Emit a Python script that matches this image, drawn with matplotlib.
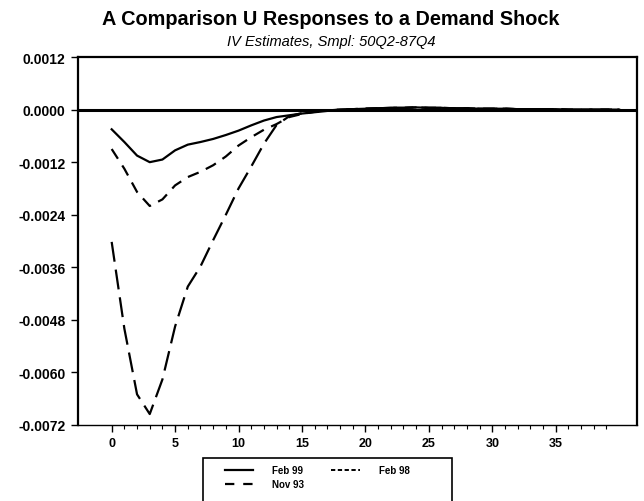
import matplotlib
matplotlib.use("Agg")
from matplotlib import pyplot as plt
from matplotlib.lines import Line2D
from matplotlib.patches import Rectangle
from matplotlib.ticker import FixedLocator

plt.rcParams["font.family"] = ["Liberation Sans", "DejaVu Sans"]

# quarters after the shock
horizon = list(range(41))

tail = [0.0, 0.00001, 0.00002, 0.00003, 0.00004, 0.00004, 0.00005, 0.00004,
        0.00004, 0.00003, 0.00003, 0.00002, 0.00002, 0.00002, 0.00001, 0.00001,
        0.00001, 0.00001, 0.0, 0.0, 0.0, 0.0, 0.0]

feb99 = [-0.00045, -0.00074, -0.00105, -0.00120, -0.00114, -0.00093, -0.00080,
         -0.00074, -0.00067, -0.00058, -0.00048, -0.00036, -0.00025, -0.00017,
         -0.00013, -0.00009, -0.00006, -0.00003] + tail
feb98 = [-0.00090, -0.00135, -0.00188, -0.00220, -0.00205, -0.00173, -0.00154,
         -0.00142, -0.00127, -0.00107, -0.00082, -0.00063, -0.00046, -0.00033,
         -0.00017, -0.00010, -0.00005, -0.00002] + tail
nov93 = [-0.00302, -0.00500, -0.00650, -0.00695, -0.00616, -0.00495, -0.00404,
         -0.00358, -0.00298, -0.00240, -0.00180, -0.00130, -0.00078, -0.00035,
         -0.00015, -0.00008, -0.00004, -0.00002] + tail

title = "A Comparison U Responses to a Demand Shock"
subtitle = "IV Estimates, Smpl: 50Q2-87Q4"

fig = plt.figure(figsize=(6.44, 5.02), dpi=100)
ax = fig.add_axes([0.121, 0.1514, 0.868, 0.733])

ax.plot(horizon, feb99, color="black", lw=1.6)
ax.plot(horizon, feb98, color="black", lw=1.6, linestyle=(0, (5.2, 3.6)))
ax.plot(horizon, nov93, color="black", lw=1.6, linestyle=(0, (9.0, 3.6)))
ax.axhline(0, color="black", lw=2.2, zorder=1)

ax.set_xlim(-2.66, 41.4)
ax.set_ylim(-0.0072, 0.0012)
ax.set_xticks(range(0, 40, 5))
ax.xaxis.set_minor_locator(FixedLocator(range(0, 40)))
ax.set_yticks([0.0012, 0.0, -0.0012, -0.0024, -0.0036, -0.0048, -0.0060, -0.0072])
ax.set_yticklabels(["0.0012", "0.0000", "-0.0012", "-0.0024", "-0.0036",
                    "-0.0048", "-0.0060", "-0.0072"])
ax.tick_params(axis="both", which="major", direction="out", length=5, width=1, pad=4)
ax.tick_params(axis="x", labelsize=9)
ax.tick_params(axis="y", labelsize=10)
ax.tick_params(axis="x", which="minor", direction="out", length=3, width=0.8)
for lab in ax.get_xticklabels() + ax.get_yticklabels():
    lab.set_fontweight("bold")
for side in ["left", "top", "right"]:
    ax.spines[side].set_linewidth(1.6)
ax.spines["bottom"].set_linewidth(1.0)

fig.text(0.513, 0.962, title, ha="center", va="center", fontsize=14.3, fontweight="bold")
fig.text(0.514, 0.916, subtitle, ha="center", va="center", fontsize=10.5, style="italic")

# legend box runs off the bottom of the page, as in the scan
fig.add_artist(Rectangle((203 / 644, -0.05), 249 / 644, 0.05 + 1 - 459 / 502,
                         transform=fig.transFigure, fill=False, edgecolor="black",
                         lw=1.2, clip_on=False))
# legend keys are drawn shorter than the plotted dashes
h_feb99 = Line2D([], [], color="black", lw=1.6)
h_nov93 = Line2D([], [], color="black", lw=1.6, linestyle=(0, (4.2, 4.0)))
h_feb98 = Line2D([], [], color="black", lw=1.4, linestyle=(0, (2.2, 1.3)))
fig.legend(handles=[h_feb99, h_nov93, h_feb98], labels=["Feb 99", "Nov 93", "Feb 98"], ncol=2,
           loc="upper left", bbox_to_anchor=(225 / 644, 1 - 466 / 502),
           bbox_transform=fig.transFigure, borderaxespad=0, borderpad=0,
           frameon=False, prop={"size": 7, "weight": "bold"}, handlelength=2.9,
           handletextpad=1.95, columnspacing=2.8, labelspacing=0.45)

fig.savefig("out.png", dpi=100)
